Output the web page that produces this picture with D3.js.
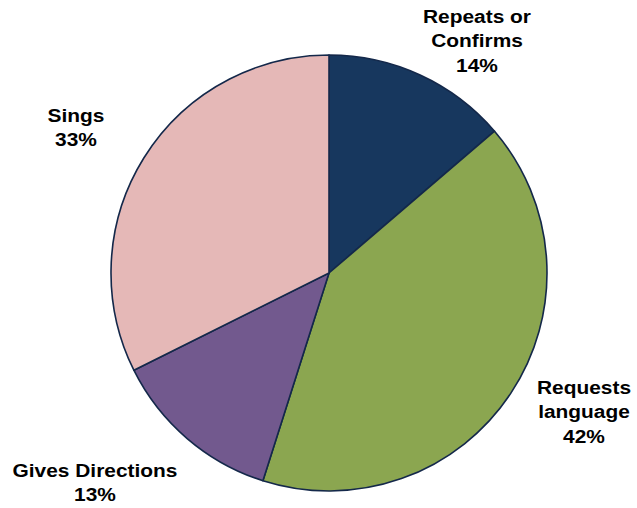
<!DOCTYPE html>
<html>
<head>
<meta charset="utf-8">
<script src="https://cdn.jsdelivr.net/npm/d3@7"></script>
<style>
  html, body { margin: 0; padding: 0; background: #ffffff; }
  svg { display: block; }
  .lbl { font-family: "Liberation Sans", Arial, sans-serif; font-weight: bold; font-size: 19px; fill: #000; }
</style>
</head>
<body>
<svg id="chart" width="637" height="508"></svg>
<script>
// Slice data, clockwise from 12 o'clock
const categories = ["Repeats or Confirms", "Requests language", "Gives Directions", "Sings"];
const values = [14, 42, 13, 33];
const labelLines = [["Repeats or", "Confirms"], ["Requests", "language"], ["Gives Directions"], ["Sings"]];
const colors = ["#17375E", "#8BA650", "#72598E", "#E5B8B7"];

// Label anchor points (centre x, first baseline y)
const labelPos = [[477, 23], [584, 394], [95, 477], [76, 122]];

const width = 637, height = 508;
const cx = 329, cy = 273, radius = 218;

const svg = d3.select("#chart");
const g = svg.append("g").attr("transform", `translate(${cx},${cy})`);

const pie = d3.pie().sort(null).value(d => d.value);
const arc = d3.arc().innerRadius(0).outerRadius(radius);

const data = categories.map((c, i) => ({ name: c, value: values[i], color: colors[i] }));

g.selectAll("path.slice")
  .data(pie(data))
  .join("path")
  .attr("class", "slice")
  .attr("d", arc)
  .attr("fill", d => d.data.color)
  .attr("stroke", "#14284a")
  .attr("stroke-width", 1.6)
  .attr("stroke-linejoin", "round");

// Category labels with percentage on the last line
const lineH = 24.5;
const labels = svg.selectAll("g.label")
  .data(data)
  .join("g")
  .attr("class", "label")
  .attr("transform", (d, i) => `translate(${labelPos[i][0]},${labelPos[i][1]}) scale(1.1,1)`);

labels.each(function (d, i) {
  const lines = labelLines[i].concat([d.value + "%"]);
  const t = d3.select(this).append("text")
    .attr("class", "lbl")
    .attr("text-anchor", "middle");
  lines.forEach((ln, k) => {
    t.append("tspan").attr("x", 0).attr("y", k * lineH).text(ln);
  });
});
</script>
</body>
</html>
